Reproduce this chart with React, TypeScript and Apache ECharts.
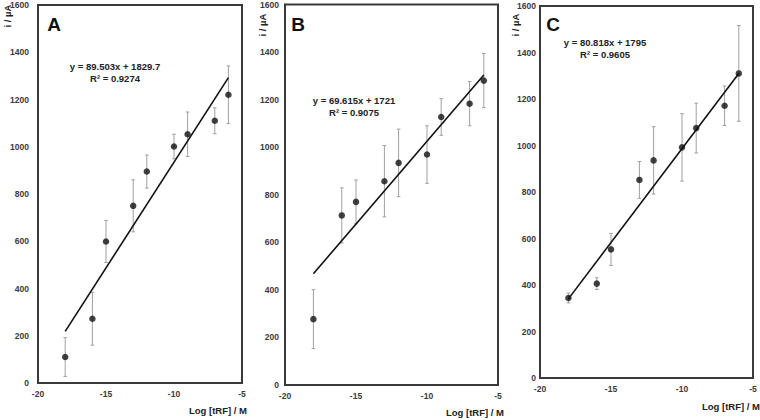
import React, { useEffect, useRef } from "react";
import * as echarts from "echarts";

const xValues = [-18, -16, -15, -13, -12, -10, -9, -7, -6];
const meanA = [110, 272, 599, 750, 895, 1001, 1053, 1110, 1220];
const errA = [82, 112, 89, 110, 70, 52, 94, 55, 122];
const meanB = [277, 713, 770, 857, 934, 969, 1127, 1183, 1280];
const errB = [124, 116, 92, 150, 142, 121, 77, 93, 114];
const meanC = [344, 406, 553, 852, 936, 992, 1075, 1171, 1310];
const errC = [21, 25, 69, 79, 145, 145, 107, 85, 206];
const slopes = [89.503, 69.615, 80.818];
const intercepts = [1829.7, 1721, 1795];
const r2Values = ["0.9274", "0.9075", "0.9605"];
const panelLetters = ["A", "B", "C"];
const xTitle = "Log [tRF] / M";
const yTitle = "i / µA";

const FONT = "'Liberation Sans', Arial, sans-serif";
const DARK = "#3a3a3a";

const grids = [
  { left: 38, top: 5, width: 204, height: 378 },
  { left: 285, top: 4, width: 213, height: 381 },
  { left: 540, top: 6, width: 213, height: 372 },
];
const yLabelMargins = [9, 6, 4];
const eqPos = [
  [115, 66],
  [354, 100],
  [605, 42],
];
const letterPos = [
  [54, 24],
  [298, 24],
  [553, 24],
];
const yTitlePos = [
  [7, 16],
  [262, 25],
  [515, 25],
];
const xTitlePos = [
  [247, 410],
  [504, 412],
  [760, 406],
];

export default function App() {
  const ref = useRef<HTMLDivElement>(null);
  useEffect(() => {
    if (!ref.current) return;
    const chart = echarts.init(ref.current, null, { renderer: "svg" });
    const means = [meanA, meanB, meanC];
    const errs = [errA, errB, errC];

    const xAxes: any[] = [];
    const yAxes: any[] = [];
    const series: any[] = [];
    const graphics: any[] = [];

    grids.forEach((g, i) => {
      xAxes.push({
        type: "value",
        gridIndex: i,
        min: -20,
        max: -5,
        interval: 5,
        axisLine: { show: true, onZero: false, lineStyle: { color: DARK, width: 2 } },
        axisTick: { show: false },
        splitLine: { show: false },
        axisLabel: {
          color: DARK,
          fontWeight: "bold",
          fontSize: 8.5,
          fontFamily: FONT,
          margin: 6,
          formatter: (v: number) => String(v),
        },
      });
      yAxes.push({
        type: "value",
        gridIndex: i,
        min: 0,
        max: 1600,
        interval: 200,
        axisLine: { show: true, lineStyle: { color: DARK, width: 2 } },
        axisTick: { show: false },
        splitLine: { show: false },
        axisLabel: {
          color: DARK,
          fontWeight: "bold",
          fontSize: 8.5,
          fontFamily: FONT,
          margin: yLabelMargins[i],
          formatter: (v: number) => String(v),
        },
      });
      const m = means[i];
      const e = errs[i];
      series.push({
        type: "custom",
        xAxisIndex: i,
        yAxisIndex: i,
        data: xValues.map((x, k) => [x, m[k] - e[k], m[k] + e[k]]),
        renderItem: (params: any, api: any) => {
          const lo = api.coord([api.value(0), api.value(1)]);
          const hi = api.coord([api.value(0), api.value(2)]);
          const cap = 1.8;
          const st = { stroke: "#a0a0a0", lineWidth: 1 };
          return {
            type: "group",
            children: [
              { type: "line", shape: { x1: lo[0], y1: lo[1], x2: hi[0], y2: hi[1] }, style: st },
              { type: "line", shape: { x1: lo[0] - cap, y1: lo[1], x2: lo[0] + cap, y2: lo[1] }, style: st },
              { type: "line", shape: { x1: hi[0] - cap, y1: hi[1], x2: hi[0] + cap, y2: hi[1] }, style: st },
            ],
          };
        },
        z: 1,
      });
      const x0 = xValues[0];
      const x1 = xValues[xValues.length - 1];
      series.push({
        type: "line",
        xAxisIndex: i,
        yAxisIndex: i,
        data: [
          [x0, slopes[i] * x0 + intercepts[i]],
          [x1, slopes[i] * x1 + intercepts[i]],
        ],
        showSymbol: false,
        lineStyle: { color: "#111", width: 1.6 },
        z: 2,
      });
      series.push({
        type: "scatter",
        xAxisIndex: i,
        yAxisIndex: i,
        data: xValues.map((x, k) => [x, m[k]]),
        symbol: "circle",
        symbolSize: 6.5,
        itemStyle: { color: "#111" },
        z: 3,
      });

      graphics.push({
        type: "text",
        x: letterPos[i][0],
        y: letterPos[i][1],
        style: {
          text: panelLetters[i],
          font: `bold 19px ${FONT}`,
          fill: "#111",
          textAlign: "center",
          textVerticalAlign: "middle",
        },
      });
      graphics.push({
        type: "text",
        x: eqPos[i][0],
        y: eqPos[i][1],
        style: {
          text: `y = ${slopes[i]}x + ${intercepts[i]}`,
          font: `bold 9.5px ${FONT}`,
          fill: "#222",
          textAlign: "center",
          textVerticalAlign: "middle",
        },
      });
      graphics.push({
        type: "text",
        x: eqPos[i][0],
        y: eqPos[i][1] + 12,
        style: {
          text: `R² = ${r2Values[i]}`,
          font: `bold 9.5px ${FONT}`,
          fill: "#222",
          textAlign: "center",
          textVerticalAlign: "middle",
        },
      });
      graphics.push({
        type: "text",
        x: yTitlePos[i][0],
        y: yTitlePos[i][1],
        rotation: Math.PI / 2,
        style: {
          text: yTitle,
          font: `bold 9.5px ${FONT}`,
          fill: "#222",
          textAlign: "center",
          textVerticalAlign: "middle",
        },
      });
      graphics.push({
        type: "text",
        x: xTitlePos[i][0],
        y: xTitlePos[i][1],
        style: {
          text: xTitle,
          font: `bold 9.5px ${FONT}`,
          fill: "#222",
          textAlign: "right",
          textVerticalAlign: "middle",
        },
      });
    });

    chart.setOption({
      animation: false,
      backgroundColor: "#fff",
      grid: grids.map((g) => ({
        ...g,
        show: true,
        borderColor: DARK,
        borderWidth: 2,
        backgroundColor: "transparent",
        containLabel: false,
      })),
      xAxis: xAxes,
      yAxis: yAxes,
      series,
      graphic: graphics,
    });
    return () => chart.dispose();
  }, []);
  return (
    <div
      ref={ref}
      style={{ position: "fixed", left: 0, top: 0, width: 760, height: 420 }}
    />
  );
}
